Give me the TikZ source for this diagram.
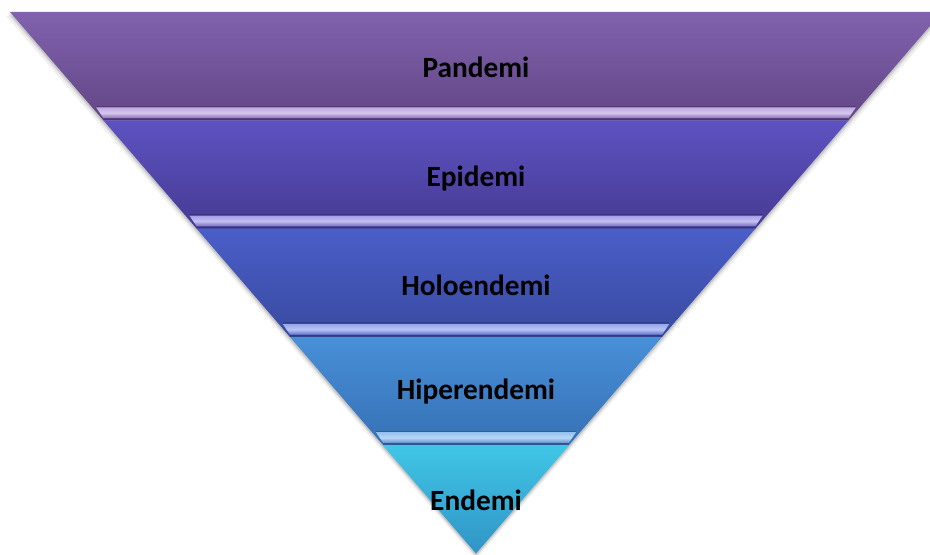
\documentclass[tikz,border=0pt]{standalone}
\usepackage{fontspec}
\setmainfont{Carlito}
\definecolor{aTop}{HTML}{8062AE}\definecolor{aBot}{HTML}{624685}\definecolor{aSl}{HTML}{C4B0E6}\definecolor{aSd}{HTML}{876CB8}
\definecolor{bTop}{HTML}{5E52C2}\definecolor{bBot}{HTML}{453B92}\definecolor{bSl}{HTML}{ACA6EE}\definecolor{bSd}{HTML}{6E64C2}
\definecolor{cTop}{HTML}{4A5EC8}\definecolor{cBot}{HTML}{394AA0}\definecolor{cSl}{HTML}{9CACF0}\definecolor{cSd}{HTML}{5B6CC8}
\definecolor{dTop}{HTML}{4890D8}\definecolor{dBot}{HTML}{3670B4}\definecolor{dSl}{HTML}{9CC6F2}\definecolor{dSd}{HTML}{5A8CD0}
\definecolor{eTop}{HTML}{40C6E6}\definecolor{eBot}{HTML}{3094C6}
\tikzset{
  lbl/.style={font=\bfseries\fontsize{22}{24}\selectfont, text=black, inner sep=0pt},
}
\begin{document}
\begin{tikzpicture}[x=0.75pt,y=-0.75pt]
\useasboundingbox (0,0) rectangle (930,555);
\clip (0,0) rectangle (930,555);
% soft shadow
\fill[black,opacity=0.06] (6,16) -- (946,16) -- (476,559) -- cycle;
\fill[black,opacity=0.08] (8,14.5) -- (944,14.5) -- (476,557) -- cycle;
\fill[black,opacity=0.10] (9,13.5) -- (943,13.5) -- (476,555.5) -- cycle;
% bands
\foreach \i/\ct/\cb/\sl/\sd in {0/aTop/aBot/aSl/aSd,1/bTop/bBot/bSl/bSd,2/cTop/cBot/cSl/cSd,3/dTop/dBot/dSl/dSd}{
  \pgfmathsetmacro{\yt}{12+108.3*\i}
  \pgfmathsetmacro{\yb}{\yt+108.3}
  \pgfmathsetmacro{\xlt}{10+(\yt-12)*0.86137}
  \pgfmathsetmacro{\xrt}{942-(\yt-12)*0.86137}
  \pgfmathsetmacro{\xlb}{10+(\yb-12)*0.86137}
  \pgfmathsetmacro{\xrb}{942-(\yb-12)*0.86137}
  \shade[top color=\ct, bottom color=\cb] (\xlt,\yt) -- (\xrt,\yt) -- (\xrb,\yb) -- (\xlb,\yb) -- cycle;
  % bevel strip
  \pgfmathsetmacro{\ys}{\yb-13}
  \pgfmathsetmacro{\ye}{\yb-2}
  \pgfmathsetmacro{\xls}{10+(\ys-12)*0.86137+4}
  \pgfmathsetmacro{\xrs}{942-(\ys-12)*0.86137-4}
  \pgfmathsetmacro{\xle}{10+(\ye-12)*0.86137+2}
  \pgfmathsetmacro{\xre}{942-(\ye-12)*0.86137-2}
  \fill[\cb!85!black] (\xls,\ys-1.5) -- (\xrs,\ys-1.5) -- (\xrs,\ys) -- (\xls,\ys) -- cycle;
  \shade[top color=\sl!90!\ct, bottom color=\sd, middle color=\sl!70!white] (\xls,\ys) -- (\xrs,\ys) -- (\xre,\ye) -- (\xle,\ye) -- cycle;
  \fill[\cb!80!black] (\xle,\ye) -- (\xre,\ye) -- (\xrb,\yb) -- (\xlb,\yb) -- cycle;
}
% last band
\shade[top color=eTop, bottom color=eBot] (382.8,445.2) -- (569.2,445.2) -- (476,553.5) -- cycle;
% labels
\node[lbl] (pandemi) at (476,67) {Pandemi};
\node[lbl] (epidemi) at (476,179) {Epidemi};
\node[lbl] (holo) at (476,285) {Holoendemi};
\node[lbl] (hiper) at (476,392) {Hiperendemi};
\node[lbl] (endemi) at (476,500) {Endemi};
\end{tikzpicture}
\end{document}
